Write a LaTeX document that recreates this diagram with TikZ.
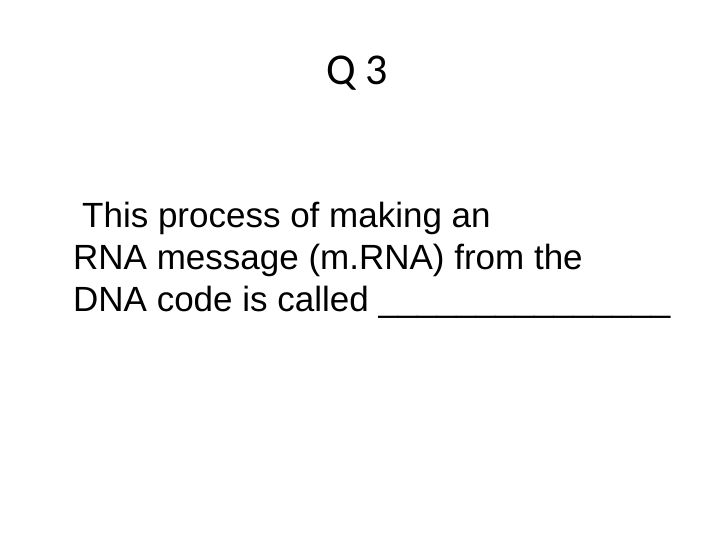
\documentclass[tikz,border=0pt]{standalone}
\usepackage{fontspec}
\setmainfont{Liberation Sans}
\newfontfamily\titlefont{Carlito}
\begin{document}
\begin{tikzpicture}[x=1pt,y=-1pt,
  body/.style={anchor=base west,inner sep=0pt,font=\fontsize{35}{40}\selectfont}]
\useasboundingbox (0,0) rectangle (720,540);
\node[anchor=base,inner sep=0pt,font=\titlefont\fontsize{44}{50}\selectfont] (t) at (357,85) {Q 3};
\node[body] (l1) at (82,227) {This process of making an};
\node[body] (l2) at (73,269) {RNA message (m.RNA) from the};
\node[body] (l3) at (73,311) {DNA code is called \_\_\_\_\_\_\_\_\_\_\_\_\_\_\_};
\end{tikzpicture}
\end{document}
